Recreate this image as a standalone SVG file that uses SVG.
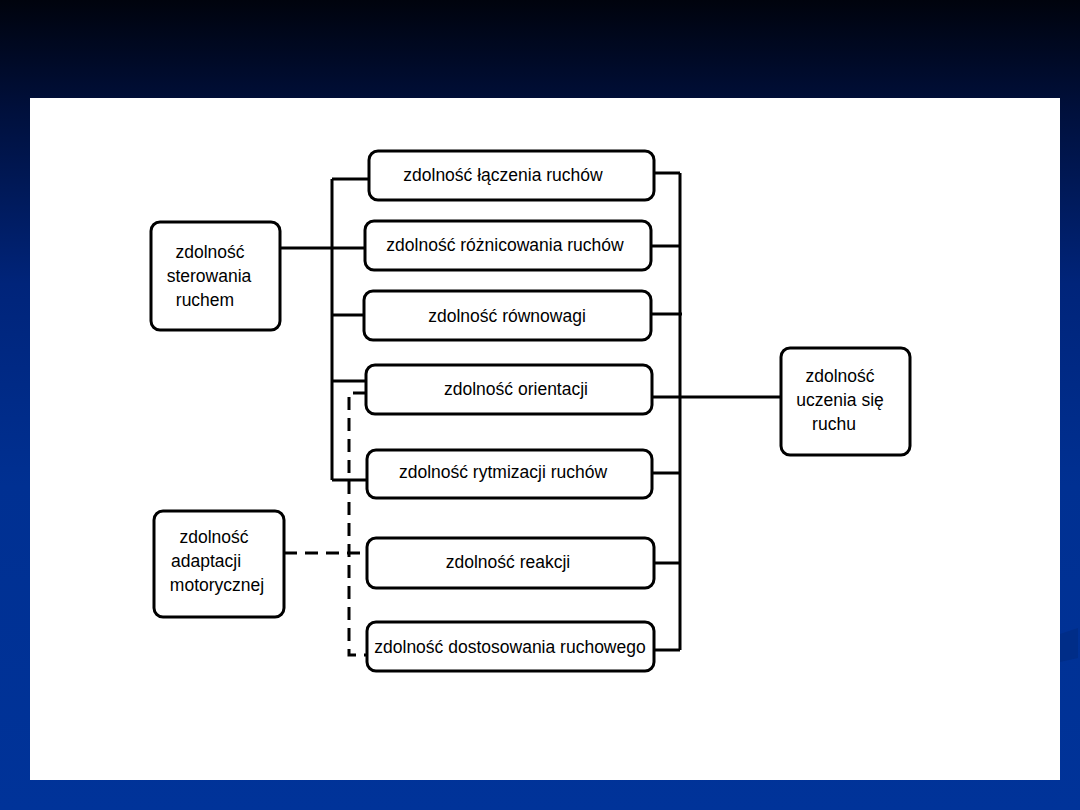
<svg xmlns="http://www.w3.org/2000/svg" width="1080" height="810" viewBox="0 0 1080 810">
<defs>
<linearGradient id="bg" x1="0" y1="0" x2="0" y2="1">
<stop offset="0" stop-color="#00030d"/>
<stop offset="0.13" stop-color="#000f3a"/>
<stop offset="0.35" stop-color="#00247a"/>
<stop offset="0.6" stop-color="#003092"/>
<stop offset="1" stop-color="#003399"/>
</linearGradient>
<style>
.box{fill:#ffffff;stroke:#000000;stroke-width:3}
.ln{fill:none;stroke:#000000;stroke-width:3}
.dash{fill:none;stroke:#000000;stroke-width:3;stroke-dasharray:13 8}
text{font-family:"Liberation Sans",Arial,sans-serif;font-size:17.5px;fill:#000000;text-anchor:middle}
</style>
</defs>
<rect x="0" y="0" width="1080" height="810" fill="url(#bg)"/>
<polygon points="1060,634 1078,628 1078,658 1060,662" fill="#002d88"/>
<rect x="30" y="98" width="1030" height="682" fill="#ffffff"/>

<g id="connectors">
<path class="ln" d="M332,179 V480"/>
<path class="ln" d="M332,179 H369"/>
<path class="ln" d="M280,248 H365"/>
<path class="ln" d="M332,315 H364"/>
<path class="ln" d="M332,381 H366"/>
<path class="ln" d="M332,480 H367"/>
<path class="ln" d="M680,173 V650"/>
<path class="ln" d="M654,173 H680"/>
<path class="ln" d="M651,246 H680"/>
<path class="ln" d="M651,314 H682"/>
<path class="ln" d="M652,397 H781"/>
<path class="ln" d="M652,473 H680"/>
<path class="ln" d="M654,563 H680"/>
<path class="ln" d="M654,650 H680"/>
<path class="dash" d="M366,393 H349 V655 H368"/>
<path class="dash" d="M284,553 H367"/>
</g>

<g id="sterowania">
<rect class="box" x="151" y="222" width="129" height="108" rx="9"/>
<text x="210" y="258">zdolność</text>
<text x="209" y="282">sterowania</text>
<text x="205" y="306">ruchem</text>
</g>
<g id="adaptacji">
<rect class="box" x="154" y="511" width="130" height="106" rx="9"/>
<text x="214" y="543">zdolność</text>
<text x="206" y="567">adaptacji</text>
<text x="217" y="591">motorycznej</text>
</g>
<g id="uczenia">
<rect class="box" x="781" y="348" width="129" height="107" rx="9"/>
<text x="840" y="382">zdolność</text>
<text x="840" y="406">uczenia się</text>
<text x="834" y="430">ruchu</text>
</g>

<g id="laczenia">
<rect class="box" x="369" y="151" width="285" height="49" rx="9"/>
<text x="503" y="181">zdolność łączenia ruchów</text>
</g>
<g id="roznicowania">
<rect class="box" x="365" y="221" width="286" height="49" rx="9"/>
<text x="505" y="251">zdolność różnicowania ruchów</text>
</g>
<g id="rownowagi">
<rect class="box" x="364" y="291" width="287" height="49" rx="9"/>
<text x="507" y="322">zdolność równowagi</text>
</g>
<g id="orientacji">
<rect class="box" x="366" y="365" width="286" height="49" rx="9"/>
<text x="516" y="395">zdolność orientacji</text>
</g>
<g id="rytmizacji">
<rect class="box" x="367" y="450" width="285" height="48" rx="9"/>
<text x="503" y="478">zdolność rytmizacji ruchów</text>
</g>
<g id="reakcji">
<rect class="box" x="367" y="538" width="287" height="50" rx="9"/>
<text x="508" y="568">zdolność reakcji</text>
</g>
<g id="dostosowania">
<rect class="box" x="367" y="622" width="287" height="49" rx="9"/>
<text x="510" y="653">zdolność dostosowania ruchowego</text>
</g>
</svg>
